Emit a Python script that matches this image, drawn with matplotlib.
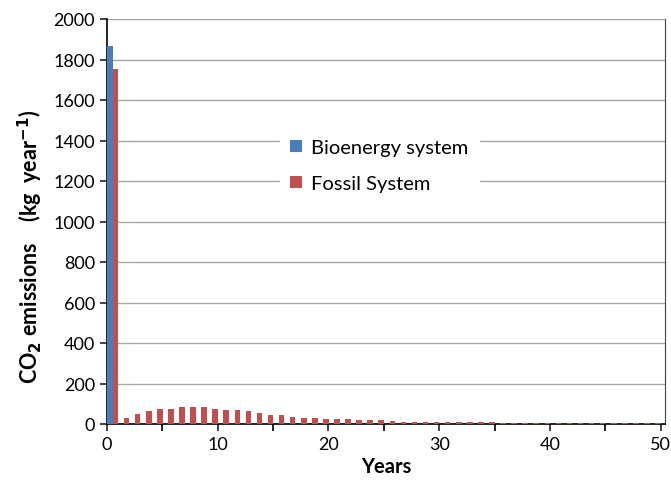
import matplotlib.pyplot as plt
import numpy as np

plt.switch_backend('Agg')
plt.rcParams['font.family'] = ['Lato', 'DejaVu Sans']

# Annual CO2 emissions (kg/year), years 0..50
years = np.arange(0, 51)
bioenergy = [1865] + [0] * 50
fossil = [1755,
          30, 49, 63, 74, 76, 82, 83, 82, 76, 70,
          68, 63, 56, 45, 43, 37, 30, 28, 25, 25,
          24, 19, 18, 18, 17, 12, 12, 12, 12, 11,
          11, 11, 11, 10, 5, 5, 5, 5, 5, 5,
          5, 5, 5, 5, 5, 5, 5, 5, 5, 5]

fig = plt.figure(figsize=(6.71, 4.81), dpi=100)
ax = fig.add_axes([107 / 671, 56 / 481, 558 / 671, 405 / 481])

ax.bar(years + 0.27, bioenergy, width=0.5, color='#4a7ebb', label='Bioenergy system', zorder=3)
ax.bar(years + 0.77, fossil, width=0.5, color='#c0504d', label='Fossil System', zorder=3)

ax.set_xlim(0, 50.4)
ax.set_ylim(0, 2000)
ax.set_yticks(np.arange(0, 2001, 200))
ax.set_xticks(np.arange(0, 51, 10))
ax.set_xticks(np.arange(0, 51, 5), minor=True)
ax.yaxis.grid(True, color='#a6a6a6', linewidth=1.0, zorder=0)

ax.spines['top'].set_visible(False)
ax.spines['right'].set_color('#404040')
ax.spines['left'].set_linewidth(1.2)
ax.spines['bottom'].set_linewidth(1.2)

ax.tick_params(axis='both', labelsize=13, direction='out', width=1.2, length=5, color='#222222')
ax.tick_params(axis='x', which='minor', direction='out', width=1.2, length=5)

ax.set_xlabel('Years', fontsize=14.5, fontweight='bold', labelpad=3)
ax.set_ylabel(r'CO$_\mathbf{2}$ emissions    (kg  year$^\mathbf{-1}$)', fontsize=15.5,
              fontweight='bold')
ax.yaxis.set_label_coords(-0.112, 0.44)

leg = ax.legend(loc='center left', bbox_to_anchor=(0.31, 0.638), frameon=True,
                fontsize=14.5, handlelength=0.6, handleheight=0.6, handletextpad=0.45,
                labelspacing=0.95, borderpad=0.5, borderaxespad=0)
leg.get_frame().set_edgecolor('white')
leg.get_frame().set_facecolor('white')
leg.get_frame().set_alpha(1.0)
leg.set_zorder(5)

fig.savefig('out.png', dpi=100)
